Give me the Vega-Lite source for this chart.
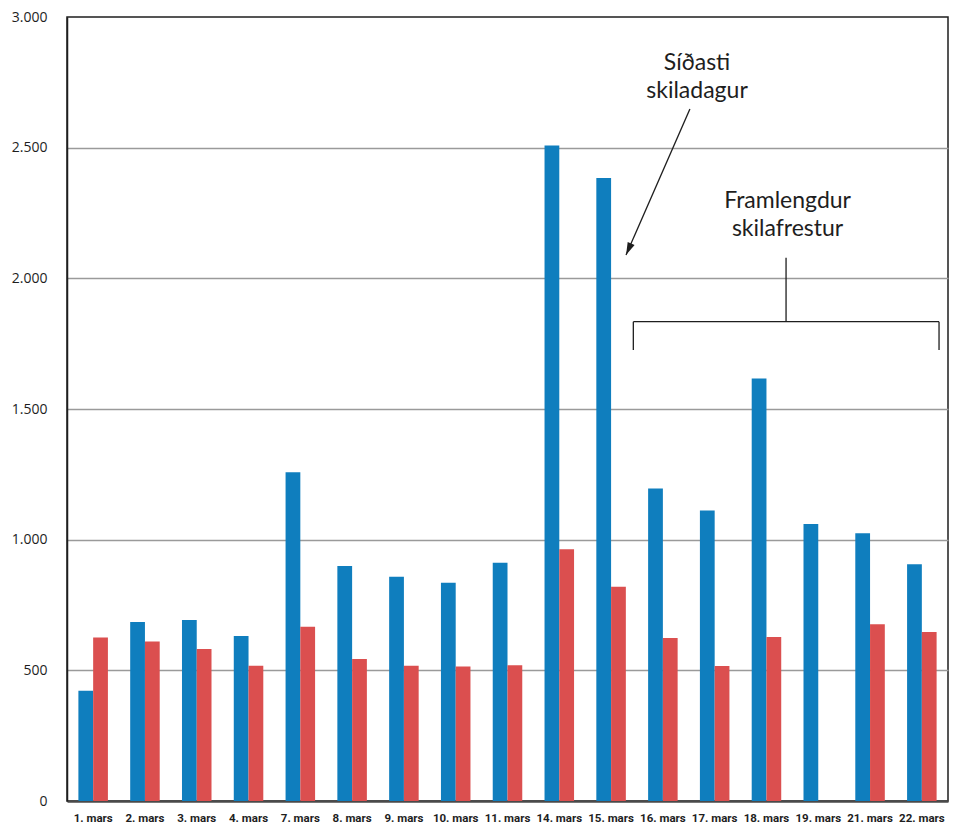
{
  "$schema": "https://vega.github.io/schema/vega-lite/v6.json",
  "width": 881,
  "height": 784,
  "autosize": "none",
  "padding": {"left": 67, "top": 17, "right": 9, "bottom": 24},
  "background": "white",
  "config": {
    "view": {"stroke": "#1e1e1e", "strokeWidth": 1.5}
  },
  "datasets": {
    "bars": [
      {"day": "1. mars", "series": "A", "value": 422},
      {"day": "1. mars", "series": "B", "value": 626},
      {"day": "2. mars", "series": "A", "value": 685},
      {"day": "2. mars", "series": "B", "value": 610},
      {"day": "3. mars", "series": "A", "value": 693},
      {"day": "3. mars", "series": "B", "value": 582},
      {"day": "4. mars", "series": "A", "value": 631},
      {"day": "4. mars", "series": "B", "value": 518},
      {"day": "7. mars", "series": "A", "value": 1258},
      {"day": "7. mars", "series": "B", "value": 667},
      {"day": "8. mars", "series": "A", "value": 899},
      {"day": "8. mars", "series": "B", "value": 543},
      {"day": "9. mars", "series": "A", "value": 858},
      {"day": "9. mars", "series": "B", "value": 518},
      {"day": "10. mars", "series": "A", "value": 835},
      {"day": "10. mars", "series": "B", "value": 515},
      {"day": "11. mars", "series": "A", "value": 912},
      {"day": "11. mars", "series": "B", "value": 519},
      {"day": "14. mars", "series": "A", "value": 2508},
      {"day": "14. mars", "series": "B", "value": 963},
      {"day": "15. mars", "series": "A", "value": 2384},
      {"day": "15. mars", "series": "B", "value": 820},
      {"day": "16. mars", "series": "A", "value": 1196},
      {"day": "16. mars", "series": "B", "value": 624},
      {"day": "17. mars", "series": "A", "value": 1112},
      {"day": "17. mars", "series": "B", "value": 517},
      {"day": "18. mars", "series": "A", "value": 1617},
      {"day": "18. mars", "series": "B", "value": 628},
      {"day": "19. mars", "series": "A", "value": 1060},
      {"day": "21. mars", "series": "A", "value": 1025},
      {"day": "21. mars", "series": "B", "value": 676},
      {"day": "22. mars", "series": "A", "value": 906},
      {"day": "22. mars", "series": "B", "value": 647}
    ],
    "lines": [
      {"part": "arrow", "x": 12.02, "y": 2648, "x2": 10.787, "y2": 2089},
      {"part": "stem", "x": 13.875, "y": 2079, "x2": 13.875, "y2": 1837},
      {"part": "bar", "x": 10.928, "y": 1834, "x2": 16.827, "y2": 1834},
      {"part": "left", "x": 10.928, "y": 1834, "x2": 10.928, "y2": 1726},
      {"part": "right", "x": 16.827, "y": 1834, "x2": 16.827, "y2": 1726}
    ],
    "heads": [
      {"x": 10.787, "y": 2089}
    ],
    "notes": [
      {"label": "Síðasti\nskiladagur", "x": 12.157, "y": 2798},
      {"label": "Framlengdur\nskilafrestur", "x": 13.904, "y": 2271}
    ]
  },
  "layer": [
    {
      "data": {"name": "bars"},
      "mark": {"type": "bar"},
      "encoding": {
        "x": {
          "field": "day",
          "type": "nominal",
          "sort": null,
          "scale": {"paddingInner": 0.43, "paddingOuter": 0.22},
          "axis": {
            "title": null,
            "labelAngle": 0,
            "ticks": false,
            "labelPadding": 11,
            "labelFont": "Roboto, sans-serif",
            "labelFontWeight": "bold",
            "labelFontSize": 11.5,
            "labelColor": "#1e1e1e",
            "domainColor": "#4a4a4a",
            "domainWidth": 2.5,
            "grid": false
          }
        },
        "xOffset": {"field": "series", "type": "nominal", "sort": ["A", "B"], "scale": {"paddingInner": 0}},
        "y": {
          "field": "value",
          "type": "quantitative",
          "scale": {"domain": [0, 3000], "nice": false},
          "axis": {
            "title": null,
            "values": [0, 500, 1000, 1500, 2000, 2500, 3000],
            "labelExpr": "replace(format(datum.value, ','), ',', '.')",
            "ticks": false,
            "labelPadding": 20,
            "labelFont": "Open Sans",
            "labelFontSize": 14,
            "labelColor": "#1e1e1e",
            "domainColor": "#1e1e1e",
            "domainWidth": 1.5,
            "grid": true,
            "gridColor": {
              "condition": {"test": "datum.value == 0 || datum.value == 3000", "value": "transparent"},
              "value": "#9a9a9a"
            },
            "gridWidth": 1.3
          }
        },
        "color": {
          "field": "series",
          "type": "nominal",
          "scale": {"domain": ["A", "B"], "range": ["#0f7ebe", "#db4f4f"]},
          "legend": null
        }
      }
    },
    {
      "data": {"name": "lines"},
      "mark": {"type": "rule", "color": "#1e1e1e", "strokeWidth": 1.3},
      "encoding": {
        "x": {"field": "x", "type": "quantitative", "scale": {"domain": [0, 17], "nice": false, "zero": false}, "axis": null},
        "x2": {"field": "x2"},
        "y": {"field": "y", "type": "quantitative"},
        "y2": {"field": "y2"}
      }
    },
    {
      "data": {"name": "heads"},
      "mark": {
        "type": "point",
        "shape": "M0,0L-0.5,1.7L0.5,1.7Z",
        "filled": true,
        "color": "#1e1e1e",
        "opacity": 1,
        "size": 225,
        "angle": 203.7
      },
      "encoding": {
        "x": {"field": "x", "type": "quantitative", "scale": {"domain": [0, 17], "nice": false, "zero": false}, "axis": null},
        "y": {"field": "y", "type": "quantitative"}
      }
    },
    {
      "data": {"name": "notes"},
      "mark": {
        "type": "text",
        "font": "Lato",
        "fontSize": 23,
        "lineBreak": "\n",
        "lineHeight": 28,
        "color": "#1e1e1e",
        "align": "center",
        "baseline": "alphabetic"
      },
      "encoding": {
        "x": {"field": "x", "type": "quantitative", "scale": {"domain": [0, 17], "nice": false, "zero": false}, "axis": null},
        "y": {"field": "y", "type": "quantitative"},
        "text": {"field": "label"}
      }
    }
  ],
  "resolve": {"scale": {"x": "independent"}}
}
